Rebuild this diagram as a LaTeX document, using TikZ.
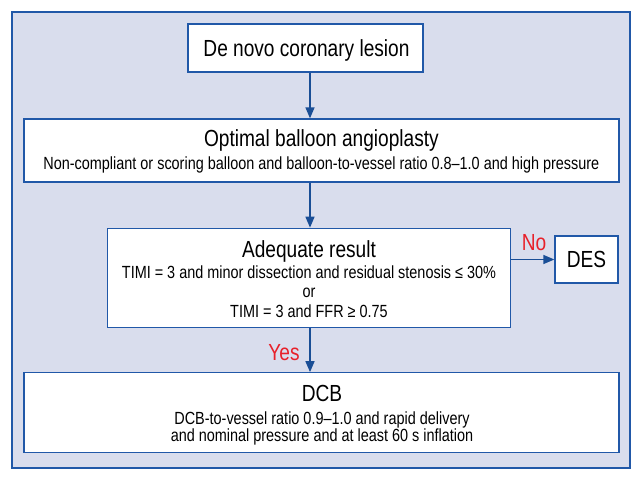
\documentclass[tikz,border=0pt]{standalone}
\usepackage{fontspec}
\setmainfont{Liberation Sans}[FakeStretch=0.82]
\usetikzlibrary{arrows.meta}
\definecolor{frameblue}{HTML}{2158A8}
\definecolor{arrowblue}{HTML}{1A4E96}
\definecolor{panelfill}{HTML}{D9DDED}
\definecolor{labelred}{HTML}{E8202A}
\begin{document}
\begin{tikzpicture}[x=1pt,y=-1pt,
  box/.style={draw=frameblue,line width=1.3pt,fill=white,inner sep=0pt},
  ttl/.style={anchor=base,inner sep=0pt,font=\fontsize{23.3}{25}\selectfont},
  sub/.style={anchor=base,inner sep=0pt,font=\fontsize{17.6}{19}\selectfont},
  lbl/.style={anchor=base,inner sep=0pt,text=labelred,font=\fontsize{23.3}{25}\selectfont},
  flow/.style={draw=arrowblue,line width=1.4pt,-{Triangle[length=11pt,width=9pt]}}]
\useasboundingbox (0,0) rectangle (643,481);
\fill[white] (0,0) rectangle (643,481);
\draw[draw=frameblue,fill=panelfill,line width=1.8pt] (12.3,12.3) rectangle (629.7,467.7);
% boxes
\node[box,minimum width=235pt,minimum height=48pt] (start) at (305.5,48) {};
\node[box,minimum width=595pt,minimum height=63pt] (pob) at (321.4,150.5) {};
\node[box,minimum width=403pt,minimum height=99pt] (adq) at (309,277.8) {};
\node[box,minimum width=63pt,minimum height=47pt] (des) at (586.5,259.5) {};
\node[box,minimum width=595pt,minimum height=80pt] (dcb) at (321.4,412.8) {};
% texts
\node[ttl] (t1) at (306.5,56.5) {De novo coronary lesion};
\node[ttl] (t2) at (321.4,146.5) {Optimal balloon angioplasty};
\node[sub] (t2s) at (321.4,169.5) {Non-compliant or scoring balloon and balloon-to-vessel ratio 0.8–1.0 and high pressure};
\node[ttl] (t3) at (309,257.3) {Adequate result};
\node[sub] (t3a) at (309,278.3) {TIMI = 3 and minor dissection and residual stenosis ≤ 30\%};
\node[sub] (t3b) at (309,297.3) {or};
\node[sub] (t3c) at (309,317.3) {TIMI = 3 and FFR ≥ 0.75};
\node[ttl] (t4) at (586.5,267.5) {DES};
\node[ttl] (t5) at (322,401.7) {DCB};
\node[sub] (t5a) at (322,424) {DCB-to-vessel ratio 0.9–1.0 and rapid delivery};
\node[sub] (t5b) at (322,441.7) {and nominal pressure and at least 60 s inflation};
% connectors
\coordinate (ax) at (310,0);
\draw[flow] (start.south -| ax) -- (pob.north -| ax);
\draw[flow] (pob.south -| ax) -- (adq.north -| ax);
\draw[flow] (adq.south -| ax) -- (dcb.north -| ax);
\draw[flow] (adq.east |- des.west) -- (des.west);
\node[lbl] (no) at (534,251) {No};
\node[lbl] (yes) at (284,360) {Yes};
\end{tikzpicture}
\end{document}
